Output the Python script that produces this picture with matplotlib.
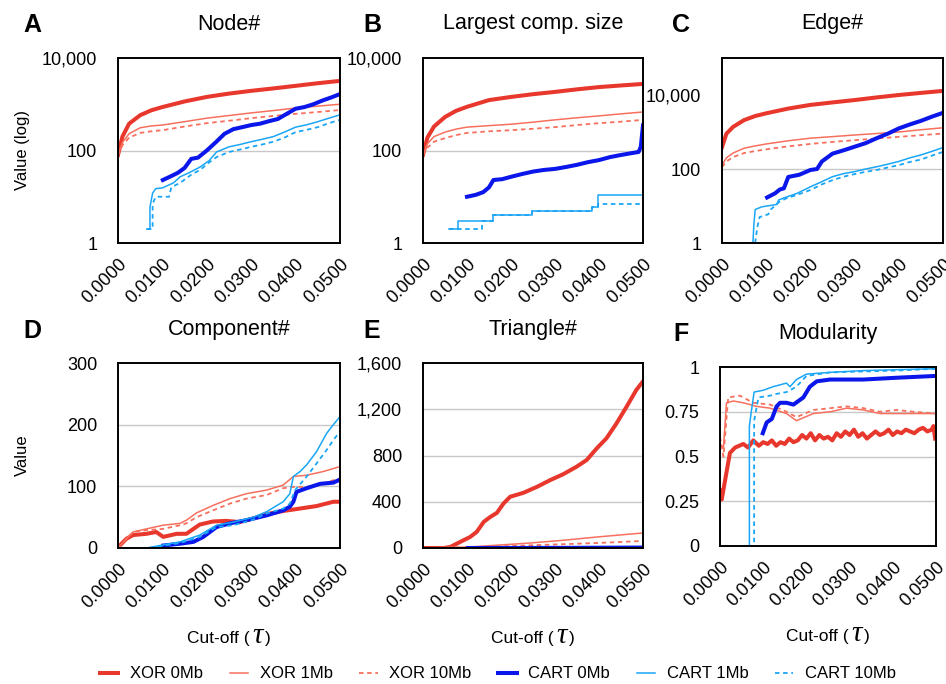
import matplotlib
matplotlib.use("Agg")
import matplotlib.pyplot as plt
from matplotlib.offsetbox import TextArea, HPacker, AnnotationBbox

plt.rcParams["font.family"] = ["Liberation Sans", "DejaVu Sans"]

# ---------------- data ----------------
SERIES_LABELS = ["XOR 0Mb", "XOR 1Mb", "XOR 10Mb", "CART 0Mb", "CART 1Mb", "CART 10Mb"]
X_TICKS = [0.0, 0.01, 0.02, 0.03, 0.04, 0.05]
X_TICK_LABELS = ["0.0000", "0.0100", "0.0200", "0.0300", "0.0400", "0.0500"]

TAU_SMOOTH = [0, 0.001, 0.0025, 0.005, 0.0075, 0.01, 0.015, 0.02, 0.025, 0.03, 0.035, 0.04, 0.045, 0.05]

# A  Node#
A_XOR0 = [80, 200, 380, 580, 740, 870, 1150, 1440, 1700, 1950, 2200, 2500, 2850, 3200]
A_XOR1 = [80, 150, 230, 310, 340, 355, 420, 500, 570, 650, 730, 830, 910, 1000]
A_XOR10 = [80, 130, 190, 240, 260, 275, 330, 390, 440, 500, 560, 620, 680, 750]
A_CART0_T = [0.0101, 0.012, 0.0135, 0.015, 0.0165, 0.018, 0.02, 0.022, 0.024, 0.026, 0.028, 0.03,
             0.032, 0.034, 0.036, 0.038, 0.04, 0.042, 0.044, 0.046, 0.048, 0.05]
A_CART0_V = [23, 28, 33, 42, 66, 70, 100, 150, 230, 290, 320, 355, 380, 430, 480, 620, 800, 870,
             1000, 1200, 1400, 1660]
A_CART1_T = [0.0065, 0.0072, 0.0072, 0.0078, 0.0085, 0.010, 0.0125, 0.014, 0.016, 0.0185, 0.0205,
             0.0222, 0.025, 0.0275, 0.03, 0.0325, 0.035, 0.0375, 0.04, 0.0425, 0.045, 0.0475, 0.05]
A_CART1_V = [2, 2, 6, 12, 15, 15.5, 20, 27, 33, 44, 60, 93, 120, 135, 155, 175, 200, 250, 320, 360,
             420, 500, 590]
A_CART10_T = [0.0065, 0.0078, 0.0078, 0.0085, 0.0115, 0.012, 0.014, 0.0165, 0.0185, 0.0205, 0.0222,
              0.025, 0.0275, 0.03, 0.0325, 0.035, 0.0375, 0.04, 0.0425, 0.045, 0.0475, 0.05]
A_CART10_V = [2, 2, 7, 10, 10, 16, 20, 30, 38, 55, 72, 93, 105, 120, 135, 155, 190, 250, 280, 320,
              390, 460]

# B  Largest comp. size
B_XOR0 = [80, 190, 330, 530, 720, 880, 1230, 1440, 1650, 1850, 2100, 2350, 2550, 2750]
B_XOR1 = [80, 140, 200, 250, 290, 320, 345, 370, 410, 460, 510, 560, 620, 680]
B_XOR10 = [80, 115, 155, 185, 215, 240, 260, 275, 295, 320, 355, 390, 420, 460]
B_CART0_T = [0.010, 0.012, 0.0137, 0.015, 0.016, 0.018, 0.02, 0.0225, 0.025, 0.0275, 0.03, 0.0325,
             0.035, 0.0375, 0.04, 0.0425, 0.045, 0.0475, 0.049, 0.0495, 0.05]
B_CART0_V = [10, 11, 12.6, 16, 23, 24, 27, 31, 35, 38, 40, 44, 49, 56, 62, 72, 80, 88, 93, 120, 350]
B_CART1_T = [0.006, 0.008, 0.008, 0.016, 0.016, 0.0248, 0.0248, 0.0384, 0.0384, 0.0398, 0.0398, 0.05]
B_CART1_V = [2, 2, 3, 3, 4, 4, 5, 5, 6, 6, 11, 11]
B_CART10_T = [0.006, 0.0135, 0.0135, 0.016, 0.016, 0.0248, 0.0248, 0.0384, 0.0384, 0.0398, 0.0398, 0.05]
B_CART10_V = [2, 2, 3, 3, 4, 4, 5, 5, 6, 6, 7, 7]

# C  Edge#
C_XOR0 = [390, 900, 1370, 2100, 2700, 3200, 4300, 5400, 6300, 7300, 8600, 10000, 11400, 12900]
C_XOR1 = [126, 200, 270, 365, 420, 475, 580, 680, 750, 830, 910, 1000, 1150, 1300]
C_XOR10 = [112, 160, 210, 270, 305, 340, 410, 475, 540, 600, 670, 740, 820, 910]
C_CART0_T = [0.0102, 0.012, 0.0131, 0.014, 0.015, 0.0175, 0.02, 0.0215, 0.0226, 0.025, 0.0275, 0.03,
             0.0325, 0.035, 0.0375, 0.04, 0.0425, 0.045, 0.0475, 0.05]
C_CART0_V = [17, 22, 28, 30, 61, 70, 94, 100, 160, 260, 320, 400, 500, 680, 900, 1250, 1600, 2000,
             2600, 3300]
C_CART1_T = [0.0063, 0.007, 0.0072, 0.0075, 0.009, 0.0124, 0.0128, 0.0143, 0.017, 0.02, 0.0225, 0.025,
             0.0275, 0.03, 0.0325, 0.035, 0.0375, 0.04, 0.0425, 0.045, 0.0475, 0.05]
C_CART1_V = [1, 1, 3, 8, 9.5, 11, 14.5, 17, 22, 33, 45, 62, 75, 85, 100, 115, 135, 160, 200, 240, 300, 380]
C_CART10_T = [0.0075, 0.008, 0.0085, 0.0105, 0.011, 0.013, 0.0145, 0.017, 0.02, 0.0225, 0.025, 0.0275,
              0.03, 0.0325, 0.035, 0.0375, 0.04, 0.0425, 0.045, 0.0475, 0.05]
C_CART10_V = [1, 2.7, 5, 6, 8, 13, 16, 20, 27, 38, 50, 62, 73, 84, 94, 110, 127, 155, 180, 230, 290]

# D  Component#
D_XOR0_T = [0, 0.0004, 0.0019, 0.0034, 0.0064, 0.0086, 0.0102, 0.0132, 0.0154, 0.0184, 0.0214, 0.0244,
            0.0274, 0.0305, 0.0335, 0.0372, 0.041, 0.0447, 0.0485, 0.05]
D_XOR0_V = [0, 4, 15, 21, 23, 26, 18, 23, 23, 38, 43, 44, 42, 48, 55, 60, 64, 68, 75, 75]
D_XOR_T = [0, 0.0019, 0.0034, 0.0064, 0.0102, 0.014, 0.0154, 0.0177, 0.0214, 0.0252, 0.0289, 0.0335,
           0.0372, 0.0395, 0.0425, 0.0462, 0.05]
D_XOR1_V = [0, 15, 26, 31, 37, 40, 45, 57, 69, 80, 88, 94, 102, 116, 118, 124, 132]
D_XOR10_V = [0, 15, 26, 29, 31, 37, 40, 50, 61, 72, 80, 86, 97, 99, 99, 105, 113]
D_CART0_T = [0.0102, 0.014, 0.017, 0.0192, 0.0222, 0.0252, 0.0289, 0.0335, 0.0372, 0.0387, 0.0395,
             0.0402, 0.0425, 0.0455, 0.0485, 0.05]
D_CART0_V = [4, 7, 10, 18, 34, 40, 45, 53, 61, 67, 75, 91, 97, 104, 106, 111]
D_CART1_T = [0.0064, 0.0094, 0.014, 0.0184, 0.0222, 0.026, 0.0305, 0.0335, 0.0372, 0.0387, 0.0395,
             0.041, 0.0425, 0.0447, 0.047, 0.0485, 0.05]
D_CART1_V = [0, 4, 10, 21, 37, 42, 50, 59, 75, 88, 116, 124, 135, 156, 186, 200, 213]
D_CART10_T = [0.0072, 0.0094, 0.014, 0.0184, 0.0222, 0.026, 0.0305, 0.0335, 0.0372, 0.0387, 0.0399,
              0.0425, 0.0447, 0.047, 0.0485, 0.05]
D_CART10_V = [0, 3, 8, 18, 34, 37, 46, 56, 64, 72, 94, 116, 137, 159, 175, 189]

# E  Triangle#
E_XOR0_T = [0, 0.0047, 0.0062, 0.0077, 0.0092, 0.0107, 0.0122, 0.0138, 0.0153, 0.0168, 0.0183, 0.0198,
            0.0228, 0.0259, 0.0289, 0.0319, 0.0349, 0.0372, 0.0395, 0.0417, 0.044, 0.0463, 0.0485, 0.05]
E_XOR0_V = [0, 0, 9, 38, 67, 95, 139, 226, 269, 304, 385, 443, 477, 529, 587, 639, 703, 761, 862, 949,
            1079, 1224, 1368, 1441]
E_XOR1_T = [0, 0.0107, 0.0243, 0.0319, 0.0395, 0.05]
E_XOR1_V = [0, 9, 43, 67, 95, 130]
E_XOR10_T = [0, 0.0107, 0.0243, 0.0395, 0.05]
E_XOR10_V = [0, 5, 23, 43, 61]
E_CART0_T = [0.0102, 0.03, 0.05]
E_CART0_V = [0, 1, 4]
E_CART1_T = [0.0065, 0.05]
E_CART1_V = [0, 1]
E_CART10_T = [0.0072, 0.05]
E_CART10_V = [0, 0]

# F  Modularity
F_XOR0_T = [0, 0.0004, 0.0012, 0.0023, 0.0035, 0.0054, 0.0065, 0.0077, 0.009,
            0.010, 0.011, 0.012, 0.013, 0.014, 0.015, 0.016, 0.017, 0.018, 0.019,
            0.020, 0.021, 0.022, 0.023, 0.024, 0.025, 0.026, 0.027, 0.028, 0.029,
            0.030, 0.031, 0.032, 0.033, 0.034, 0.035, 0.036, 0.037, 0.038, 0.039,
            0.040, 0.041, 0.042, 0.043, 0.044, 0.045, 0.046, 0.047, 0.048, 0.049,
            0.0494, 0.0498]
F_XOR0_V = [0.31, 0.26, 0.37, 0.52, 0.55, 0.57, 0.55, 0.59, 0.56,
            0.58, 0.57, 0.59, 0.56, 0.58, 0.57, 0.60, 0.58, 0.59, 0.62,
            0.60, 0.63, 0.59, 0.62, 0.60, 0.61, 0.59, 0.63, 0.61, 0.64,
            0.62, 0.65, 0.61, 0.63, 0.60, 0.62, 0.64, 0.62, 0.63, 0.65,
            0.62, 0.64, 0.63, 0.65, 0.64, 0.63, 0.65, 0.66, 0.64, 0.65,
            0.67, 0.60]
F_XOR1_T = [0, 0.0008, 0.0015, 0.0031, 0.0054, 0.0085, 0.0116, 0.0154, 0.0177, 0.0216, 0.0255, 0.0293,
            0.0332, 0.037, 0.0409, 0.0448, 0.0498]
F_XOR1_V = [0.57, 0.55, 0.80, 0.81, 0.80, 0.78, 0.77, 0.74, 0.70, 0.74, 0.75, 0.77, 0.76, 0.74, 0.74,
            0.74, 0.74]
F_XOR10_T = [0, 0.0008, 0.0019, 0.0046, 0.0077, 0.0116, 0.0154, 0.0177, 0.0216, 0.0255, 0.0293, 0.0332,
             0.037, 0.0409, 0.0448, 0.0498]
F_XOR10_V = [0.61, 0.50, 0.83, 0.84, 0.80, 0.79, 0.75, 0.72, 0.76, 0.77, 0.78, 0.77, 0.75, 0.76, 0.75,
             0.74]
F_CART0_T = [0.0099, 0.0108, 0.012, 0.0131, 0.0139, 0.0154, 0.017, 0.0193, 0.0208, 0.0224, 0.0255,
             0.0332, 0.0409, 0.0498]
F_CART0_V = [0.63, 0.69, 0.71, 0.78, 0.80, 0.80, 0.79, 0.83, 0.89, 0.92, 0.93, 0.93, 0.94, 0.95]
F_CART1_T = [0.0058, 0.0068, 0.0068, 0.0073, 0.0079, 0.01, 0.0123, 0.0154, 0.0162, 0.0177, 0.02, 0.0255,
             0.0332, 0.0409, 0.0498]
F_CART1_V = [0, 0, 0.67, 0.76, 0.86, 0.87, 0.89, 0.91, 0.89, 0.93, 0.96, 0.97, 0.98, 0.985, 0.99]
F_CART10_T = [0.0069, 0.0079, 0.0079, 0.0089, 0.0116, 0.0131, 0.0154, 0.0177, 0.02, 0.0255, 0.0332,
              0.0409, 0.0498]
F_CART10_V = [0, 0, 0.70, 0.83, 0.84, 0.85, 0.86, 0.89, 0.95, 0.97, 0.975, 0.98, 0.99]

# ---------------- styles ----------------
RED = "#E8372C"
SALMON = "#F7705E"
BLUE = "#0A16EA"
LBLUE = "#1AA6F6"
STYLES = [
    dict(color=RED, lw=2.9, ls="-"),
    dict(color=SALMON, lw=1.1, ls="-"),
    dict(color=SALMON, lw=1.3, ls=(0, (2.5, 2))),
    dict(color=BLUE, lw=2.9, ls="-"),
    dict(color=LBLUE, lw=1.1, ls="-"),
    dict(color=LBLUE, lw=1.3, ls=(0, (2.5, 2))),
]

W, H = 946, 684


def frac_rect(x0, y0, x1, y1):
    return [x0 / W, 1 - y1 / H, (x1 - x0) / W, (y1 - y0) / H]


panels = [
    dict(letter="A", title="Node#", rect=(118, 58, 340, 243), log=True, ylim=(1, 1e4),
         yticks=[1, 100, 10000], ylabels=["1", "100", "10,000"], grid=[100], ylabel="Value (log)",
         data=[(TAU_SMOOTH, A_XOR0), (TAU_SMOOTH, A_XOR1), (TAU_SMOOTH, A_XOR10),
               (A_CART0_T, A_CART0_V), (A_CART1_T, A_CART1_V), (A_CART10_T, A_CART10_V)]),
    dict(letter="B", title="Largest comp. size", rect=(423, 58, 643, 243), log=True, ylim=(1, 1e4),
         yticks=[1, 100, 10000], ylabels=["1", "100", "10,000"], grid=[100], ylabel=None,
         data=[(TAU_SMOOTH, B_XOR0), (TAU_SMOOTH, B_XOR1), (TAU_SMOOTH, B_XOR10),
               (B_CART0_T, B_CART0_V), (B_CART1_T, B_CART1_V), (B_CART10_T, B_CART10_V)]),
    dict(letter="C", title="Edge#", rect=(722, 58, 943, 243), log=True, ylim=(1, 1e5),
         yticks=[1, 100, 10000], ylabels=["1", "100", "10,000"], grid=[100], ylabel=None,
         data=[(TAU_SMOOTH, C_XOR0), (TAU_SMOOTH, C_XOR1), (TAU_SMOOTH, C_XOR10),
               (C_CART0_T, C_CART0_V), (C_CART1_T, C_CART1_V), (C_CART10_T, C_CART10_V)]),
    dict(letter="D", title="Component#", rect=(118, 363, 340, 548), log=False, ylim=(0, 300),
         yticks=[0, 100, 200, 300], ylabels=["0", "100", "200", "300"], grid=[100, 200], ylabel="Value",
         data=[(D_XOR0_T, D_XOR0_V), (D_XOR_T, D_XOR1_V), (D_XOR_T, D_XOR10_V),
               (D_CART0_T, D_CART0_V), (D_CART1_T, D_CART1_V), (D_CART10_T, D_CART10_V)]),
    dict(letter="E", title="Triangle#", rect=(423, 363, 643, 548), log=False, ylim=(0, 1600),
         yticks=[0, 400, 800, 1200, 1600], ylabels=["0", "400", "800", "1,200", "1,600"],
         grid=[400, 800, 1200], ylabel=None,
         data=[(E_XOR0_T, E_XOR0_V), (E_XOR1_T, E_XOR1_V), (E_XOR10_T, E_XOR10_V),
               (E_CART0_T, E_CART0_V), (E_CART1_T, E_CART1_V), (E_CART10_T, E_CART10_V)]),
    dict(letter="F", title="Modularity", rect=(720, 367, 936, 546), log=False, ylim=(0, 1),
         yticks=[0, 0.25, 0.5, 0.75, 1], ylabels=["0", "0.25", "0.5", "0.75", "1"],
         grid=[0.25, 0.5, 0.75], ylabel=None,
         data=[(F_XOR0_T, F_XOR0_V), (F_XOR1_T, F_XOR1_V), (F_XOR10_T, F_XOR10_V),
               (F_CART0_T, F_CART0_V), (F_CART1_T, F_CART1_V), (F_CART10_T, F_CART10_V)]),
]

fig = plt.figure(figsize=(W / 100, H / 100), dpi=100)

handles = []
for i, p in enumerate(panels):
    x0, y0, x1, y1 = p["rect"]
    ax = fig.add_axes(frac_rect(x0, y0, x1, y1))
    if p["log"]:
        ax.set_yscale("log")
    for g in p["grid"]:
        ax.axhline(g, color="#c8c8c8", lw=1.0, zorder=0.5)
    for (t, v), st, lab in zip(p["data"], STYLES, SERIES_LABELS):
        ln, = ax.plot(t, v, color=st["color"], lw=st["lw"], linestyle=st["ls"], label=lab,
                      solid_joinstyle="round", zorder=2)
        if i == 0:
            handles.append(ln)
    ax.set_xlim(0, 0.05)
    ax.set_ylim(*p["ylim"])
    ax.set_yticks(p["yticks"])
    ax.set_yticklabels(p["ylabels"])
    ax.minorticks_off()
    ax.set_xticks(X_TICKS)
    ax.set_xticklabels(X_TICK_LABELS, rotation=45, ha="right", va="top", rotation_mode="anchor")
    ax.tick_params(axis="y", length=0, pad=15, labelsize=13)
    ax.tick_params(axis="x", length=0, pad=9, labelsize=13)
    for s in ax.spines.values():
        s.set_linewidth(1.4)
        s.set_color("black")
        s.set_zorder(3)
    # title and letter
    cx = (x0 + x1) / 2
    ty = 24 if y0 < 100 else (330 if p["letter"] != "F" else 333)
    fig.text(cx / W, 1 - ty / H, p["title"], ha="center", va="center", fontsize=15.5)
    lx = {"A": 32, "B": 372, "C": 681, "D": 32, "E": 372, "F": 681}[p["letter"]]
    fig.text(lx / W, 1 - (ty + 1) / H, p["letter"], ha="center", va="center", fontsize=18,
             fontweight="bold")
    if p["ylabel"]:
        fig.text(22 / W, 1 - ((y0 + y1) / 2) / H, p["ylabel"], rotation=90, ha="center",
                 va="center", fontsize=12)
    if y0 > 300:
        xl_y = 636 if p["letter"] != "F" else 634
        box = HPacker(children=[
            TextArea("Cut-off (", textprops=dict(fontsize=12.5)),
            TextArea("\u03c4", textprops=dict(fontsize=21, family="Liberation Serif",
                                              style="italic")),
            TextArea(")", textprops=dict(fontsize=12.5)),
        ], align="baseline", pad=0, sep=2)
        ab = AnnotationBbox(box, (cx / W, 1 - xl_y / H), xycoords="figure fraction",
                            frameon=False, box_alignment=(0.5, 0.5))
        fig.add_artist(ab)

fig.legend(handles=handles, labels=SERIES_LABELS, loc="center", bbox_to_anchor=(498 / W, 1 - 674 / H),
           ncol=6, frameon=False, fontsize=12, handlelength=1.1, handletextpad=0.7,
           columnspacing=1.6, borderpad=0)

fig.savefig("out.png", dpi=100)
